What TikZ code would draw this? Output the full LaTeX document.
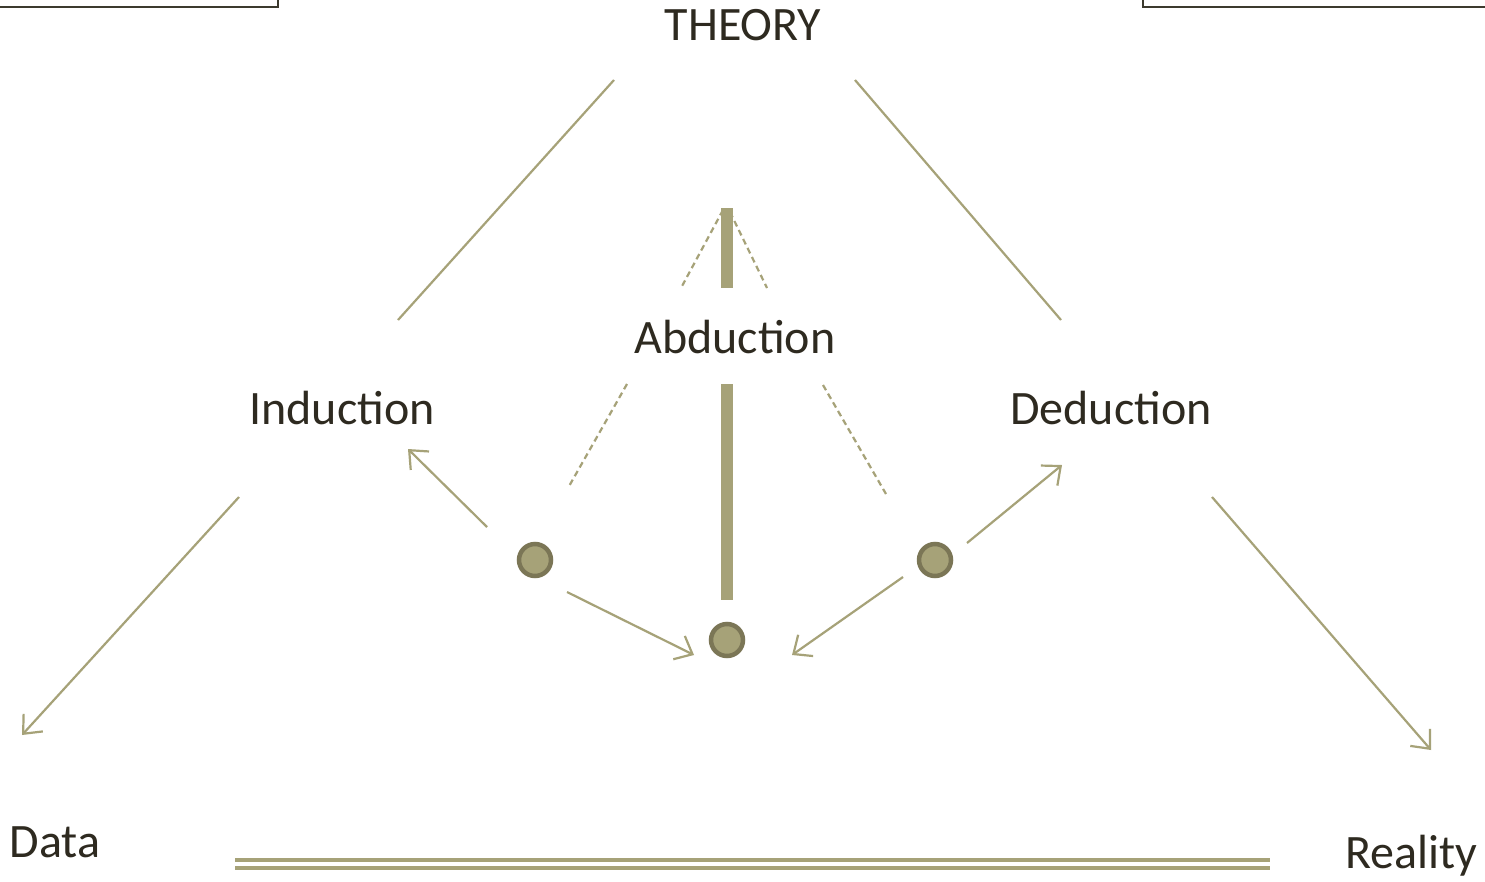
\documentclass[tikz,border=0pt]{standalone}
\usepackage{fontspec}
\setmainfont{Carlito}
\usetikzlibrary{arrows.meta}
\definecolor{olive}{HTML}{A6A278}
\definecolor{olivedark}{HTML}{7B7656}
\definecolor{ink}{HTML}{2E2A20}
\definecolor{frame}{HTML}{3C3A2E}
\tikzset{
  lbl/.style={anchor=base, inner sep=0pt, text=ink, font=\fontsize{48}{58}\selectfont},
  thinln/.style={draw=olive, line width=2.2pt},
  arr/.style={thinln, -{Straight Barb[length=15pt,width=26pt,line width=2.2pt]}},
  dashln/.style={draw=olive, line width=2.2pt, dash pattern=on 6pt off 4pt},
  bar/.style={draw=olive, line width=12pt},
  dot/.style={circle, fill=olive, draw=olivedark, line width=4.5pt, minimum size=32pt, inner sep=0pt},
  rail/.style={draw=olive, line width=4pt},
  framel/.style={draw=frame, line width=2pt}
}
\begin{document}
\begin{tikzpicture}[x=1pt,y=-1pt]
\useasboundingbox (0,0) rectangle (1485,881);
\fill[white] (0,0) rectangle (1485,881);
% top frames
\draw[framel] (-5,7) -- (278,7) -- (278,-5);
\draw[framel] (1143,-5) -- (1143,7) -- (1490,7);
% labels
\node[lbl] (theory) at (743,40) {THEORY};
\node[lbl] (ind) at (342,424) {Induction};
\node[lbl] (ded) at (1111,424) {Deduction};
\node[lbl] (abd) at (735,353) {Abduction};
\node[lbl] (data) at (55,857) {Data};
\node[lbl] (real) at (1411,868) {Reality};
% dots
\node[dot] (dl) at (535,560) {};
\node[dot] (dr) at (935,560) {};
\node[dot] (db) at (727,640) {};
% coordinates for free ends
\coordinate (t1) at (614,80);  \coordinate (t2) at (398,320);
\coordinate (t3) at (855,80);  \coordinate (t4) at (1061,320);
\coordinate (b1) at (239,497); \coordinate (b2) at (22,735);
\coordinate (b3) at (1212,497); \coordinate (b4) at (1431,750);
\coordinate (a1) at (487,527); \coordinate (a2) at (408,449);
\coordinate (a3) at (567,592); \coordinate (a4) at (694,655);
\coordinate (a5) at (903,577); \coordinate (a6) at (792,655);
\coordinate (a7) at (967,543); \coordinate (a8) at (1062,465);
\coordinate (v1) at (727,208); \coordinate (v2) at (727,288);
\coordinate (v3) at (727,384); \coordinate (v4) at (727,600);
\coordinate (d1) at (723,210); \coordinate (d2) at (681,288);
\coordinate (d3) at (730,212); \coordinate (d4) at (767,288);
\coordinate (d5) at (627,384); \coordinate (d6) at (568,488);
\coordinate (d7) at (823,385); \coordinate (d8) at (886,494);
\coordinate (r1) at (235,860); \coordinate (r2) at (1270,860);
\coordinate (r3) at (235,868); \coordinate (r4) at (1270,868);
% lines
\draw[thinln] (t1) -- (t2);
\draw[thinln] (t3) -- (t4);
\draw[arr] (b1) -- (b2);
\draw[arr] (b3) -- (b4);
\draw[arr] (a1) -- (a2);
\draw[arr] (a3) -- (a4);
\draw[arr] (a5) -- (a6);
\draw[arr] (a7) -- (a8);
\draw[dashln] (d1) -- (d2);
\draw[dashln] (d3) -- (d4);
\draw[dashln] (d5) -- (d6);
\draw[dashln] (d7) -- (d8);
\draw[bar] (v1) -- (v2);
\draw[bar] (v3) -- (v4);
\draw[rail] (r1) -- (r2);
\draw[rail] (r3) -- (r4);
\end{tikzpicture}
\end{document}
